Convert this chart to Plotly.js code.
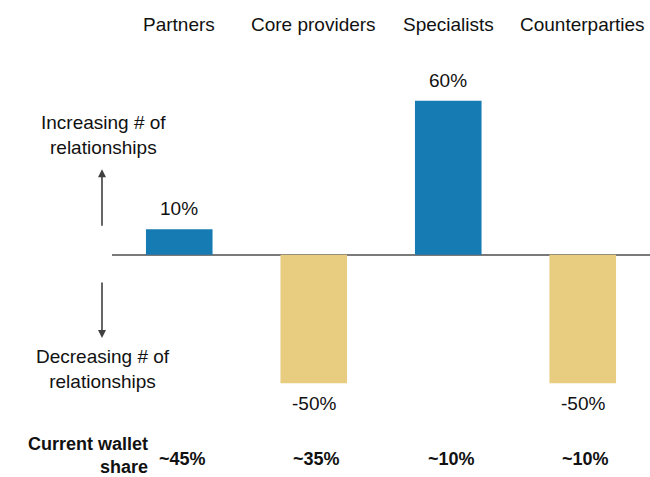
<!DOCTYPE html>
<html>
<head>
<meta charset="utf-8">
<script src="https://cdn.plot.ly/plotly-3.0.1.min.js"></script>
<style>html,body{margin:0;padding:0;background:#fff;}#chart{width:650px;height:477px;}</style>
</head>
<body>
<div id="chart"></div>
<script>
// ---- data ----
const categories = ["Partners", "Core providers", "Specialists", "Counterparties"];
const changeValues = [10, -50, 60, -50];
const changeLabels = ["10%", "-50%", "60%", "-50%"];
const walletShare = ["~45%", "~35%", "~10%", "~10%"];
const walletTitle = "Current wallet<br>share";
const upLabel = "Increasing # of<br>relationships";
const downLabel = "Decreasing # of<br>relationships";

// ---- styles ----
const FONT = "Liberation Sans, Arial, Helvetica, sans-serif";
const BLUE = "#177bb3";
const GOLD = "#e8cc80";
const colors = changeValues.map(v => v >= 0 ? BLUE : GOLD);

const trace = {
  type: "bar",
  x: categories,
  y: changeValues,
  marker: {color: colors, line: {width: 0}},
  hoverinfo: "skip"
};

const annotations = [];
// header category labels
categories.forEach(c => annotations.push({
  x: c, xref: "x", y: 1, yref: "paper", yanchor: "middle", yshift: 51,
  text: c, showarrow: false, font: {family: FONT, size: 19, color: "#111"}
}));
// value labels
categories.forEach((c, i) => {
  const v = changeValues[i];
  annotations.push({
    x: c, xref: "x", y: v, yref: "y",
    yanchor: v >= 0 ? "bottom" : "top", yshift: v >= 0 ? 8 : -8,
    text: changeLabels[i], showarrow: false,
    font: {family: FONT, size: 19, color: "#111"}
  });
});
// wallet share
categories.forEach((c, i) => annotations.push({
  x: c, xref: "x", y: 0, yref: "paper", yanchor: "middle", yshift: -50,
  xshift: 3,
  text: "<b>" + walletShare[i] + "</b>", showarrow: false,
  font: {family: FONT, size: 18, color: "#111"}
}));
annotations.push({
  x: 0, xref: "paper", xanchor: "right", xshift: 38, align: "right",
  y: 0, yref: "paper", yanchor: "middle", yshift: -46,
  text: "<b>" + walletTitle + "</b>", showarrow: false,
  font: {family: FONT, size: 18, color: "#111"}
});
// side labels
annotations.push({
  x: 0, xref: "paper", xanchor: "center", xshift: -9,
  y: 1, yref: "paper", yanchor: "middle", yshift: -60,
  text: upLabel, showarrow: false, font: {family: FONT, size: 19, color: "#111"}
});
annotations.push({
  x: 0, xref: "paper", xanchor: "center", xshift: -9,
  y: 0, yref: "paper", yanchor: "middle", yshift: 40,
  text: downLabel, showarrow: false, font: {family: FONT, size: 19, color: "#111"}
});
// arrows
annotations.push({
  x: -0.0186, xref: "paper", y: 0.7177, yref: "paper",
  text: "", showarrow: true, ax: 0, ay: 58,
  arrowhead: 2, arrowsize: 1, arrowwidth: 1.6, arrowcolor: "#404040"
});
annotations.push({
  x: -0.0186, xref: "paper", y: 0.2126, yref: "paper",
  text: "", showarrow: true, ax: 0, ay: -57,
  arrowhead: 2, arrowsize: 1, arrowwidth: 1.6, arrowcolor: "#404040"
});

const layout = {
  width: 650, height: 477,
  margin: {l: 112, r: 0, t: 75, b: 68},
  paper_bgcolor: "#fff", plot_bgcolor: "#fff",
  showlegend: false,
  bargap: 0.505,
  font: {family: FONT, size: 19, color: "#111"},
  xaxis: {type: "category", range: [-0.5, 3.5], showgrid: false, zeroline: false,
          showticklabels: false, ticks: "", showline: false, fixedrange: true},
  yaxis: {range: [-60, 70], showgrid: false, showticklabels: false, ticks: "",
          showline: false, zeroline: true, zerolinecolor: "#7a7a7a", zerolinewidth: 2,
          fixedrange: true},
  annotations: annotations
};

Plotly.newPlot("chart", [trace], layout, {displayModeBar: false, staticPlot: true});
</script>
</body>
</html>
